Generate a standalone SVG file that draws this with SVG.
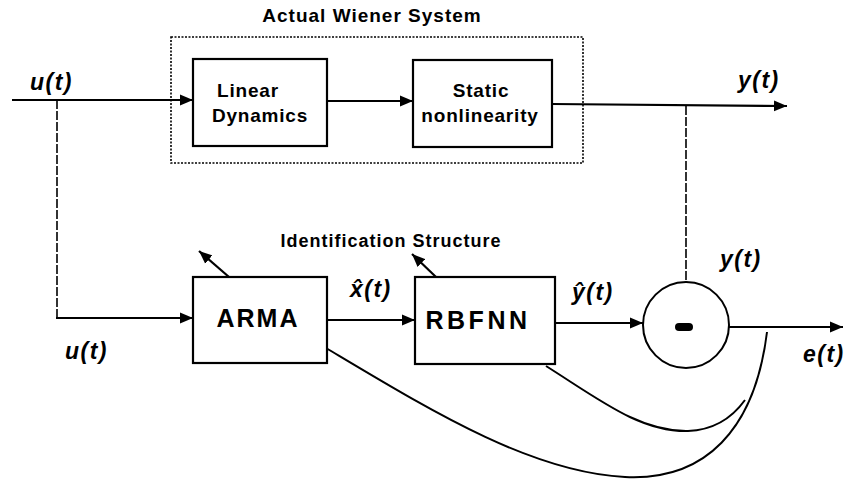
<svg xmlns="http://www.w3.org/2000/svg" width="846" height="482" viewBox="0 0 846 482">
  <defs>
    <marker id="arrow" markerUnits="userSpaceOnUse" markerWidth="14" markerHeight="12" refX="13" refY="6" orient="auto">
      <path d="M0,0.5 L13,6 L0,11.5 z" fill="#000"/>
    </marker>
  </defs>
  <style>
    .box { fill: #fff; stroke: #000; stroke-width: 2.2; }
    .wire { fill: none; stroke: #000; stroke-width: 2.2; }
    .thin { fill: none; stroke: #000; stroke-width: 1.6; stroke-dasharray: 9 2; }
    .curve { fill: none; stroke: #000; stroke-width: 2; }
    .frame { fill: none; stroke: #000; stroke-width: 1.6; stroke-dasharray: 2 1.5; }
    .lbl { font-family: "Liberation Sans", Arial, sans-serif; font-weight: bold; fill: #000; }
    .sig { font-family: "Liberation Sans", Arial, sans-serif; font-weight: bold; font-style: italic; font-size: 23px; letter-spacing: 1.5px; fill: #000; }
  </style>

  <rect width="846" height="482" fill="#fff"/>

  <!-- Dotted frame around the true plant -->
  <g id="wiener-system">
    <rect class="frame" x="171" y="37" width="412" height="126"/>
    <text class="lbl" x="372" y="22" font-size="19" letter-spacing="1" text-anchor="middle">Actual Wiener System</text>
  </g>

  <!-- Connectors -->
  <g id="connectors">
    <line class="wire" x1="12" y1="100" x2="193" y2="100" marker-end="url(#arrow)"/>
    <line class="wire" x1="327" y1="101" x2="413" y2="101" marker-end="url(#arrow)"/>
    <line class="wire" x1="552" y1="104" x2="787" y2="106" marker-end="url(#arrow)"/>
    <polyline class="thin" points="57,100 57,318"/>
    <line class="wire" x1="56" y1="318" x2="193" y2="318" marker-end="url(#arrow)"/>
    <line class="thin" x1="686" y1="106" x2="686" y2="283"/>
    <line class="wire" x1="327" y1="320" x2="415" y2="320" marker-end="url(#arrow)"/>
    <line class="wire" x1="555" y1="323" x2="643" y2="323" marker-end="url(#arrow)"/>
    <line class="wire" x1="729" y1="327" x2="843" y2="327" marker-end="url(#arrow)"/>
    <!-- adaptation arrows on the identified blocks -->
    <line class="wire" x1="229" y1="277" x2="199" y2="251" marker-end="url(#arrow)"/>
    <line class="wire" x1="436" y1="277" x2="412" y2="254" marker-end="url(#arrow)"/>
    <!-- error feedback paths -->
    <path class="curve" d="M326,348 C430,410 530,472 625,477 C705,481 755,430 767,332"/>
    <path class="curve" d="M546,366 C600,400 640,432 688,431 C715,430 732,418 745,400"/>
  </g>

  <g id="linear-dynamics">
    <rect class="box" x="193" y="59" width="134" height="87"/>
    <text class="lbl" x="248" y="97" font-size="19" letter-spacing="0.8" text-anchor="middle">Linear</text>
    <text class="lbl" x="260" y="122" font-size="19" letter-spacing="0.8" text-anchor="middle">Dynamics</text>
  </g>

  <g id="static-nonlinearity">
    <rect class="box" x="413" y="60" width="139" height="87"/>
    <text class="lbl" x="481" y="97" font-size="19" letter-spacing="0.8" text-anchor="middle">Static</text>
    <text class="lbl" x="480" y="122" font-size="19" letter-spacing="0.8" text-anchor="middle">nonlinearity</text>
  </g>

  <g id="arma">
    <rect class="box" x="193" y="277" width="134" height="86"/>
    <text class="lbl" x="258" y="327" font-size="25" letter-spacing="2" text-anchor="middle">ARMA</text>
  </g>

  <g id="rbfnn">
    <rect class="box" x="415" y="277" width="140" height="87"/>
    <text class="lbl" x="478" y="329" font-size="25" letter-spacing="3.5" text-anchor="middle">RBFNN</text>
  </g>

  <g id="subtractor">
    <circle cx="686" cy="325" r="43" fill="#fff" stroke="#000" stroke-width="2"/>
    <rect x="675" y="323" width="18" height="8" rx="4" fill="#000"/>
  </g>

  <g id="labels">
    <text class="lbl" x="391" y="247" font-size="18" letter-spacing="1" text-anchor="middle">Identification Structure</text>
    <text class="sig" x="30" y="90">u(t)</text>
    <text class="sig" x="738" y="88">y(t)</text>
    <text class="sig" x="65" y="359">u(t)</text>
    <text class="sig" x="350" y="297">x̂(t)</text>
    <text class="sig" x="572" y="300">ŷ(t)</text>
    <text class="sig" x="720" y="267">y(t)</text>
    <text class="sig" x="803" y="362">e(t)</text>
  </g>
</svg>
